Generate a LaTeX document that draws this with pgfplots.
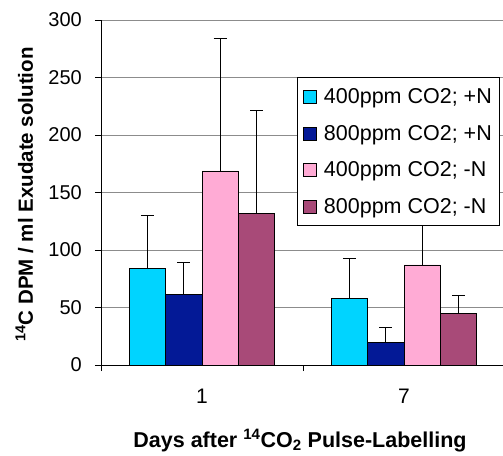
\documentclass[border=0pt]{standalone}
\usepackage{fontspec}
\setmainfont{Liberation Sans}
\usepackage{pgfplots}
\pgfplotsset{compat=1.18}
\definecolor{cA}{RGB}{0,212,255}
\definecolor{cB}{RGB}{3,25,150}
\definecolor{cC}{RGB}{255,171,213}
\definecolor{cD}{RGB}{168,74,120}
\pgfplotsset{
  eb/.style={
    fill=#1, draw=black, line width=0.8pt,
    error bars/.cd, y dir=plus, y explicit,
    error bar style={line width=0.8pt, black},
    error mark options={rotate=90, mark size=6.5pt, line width=0.8pt, black}
  }
}
\begin{document}
\begin{tikzpicture}
\useasboundingbox (0,0) rectangle (503pt,455pt);
\begin{axis}[
  at={(101pt,90pt)}, anchor=south west,
  scale only axis, width=404pt, height=345pt,
  xmin=0.5, xmax=2.5, ymin=0, ymax=300,
  ytick={0,50,...,300},
  xtick={0.5,1.5,2.5}, xticklabels={},
  extra x ticks={1,2}, extra x tick labels={1,7},
  extra x tick style={major tick length=0pt},
  axis lines=left, axis line style={-, black, line width=0.8pt},
  tick align=outside, major tick length=6pt,
  tick style={black, line width=0.8pt},
  ymajorgrids, major grid style={black!45, line width=0.8pt},
  /pgf/number format/assume math mode=true,
  yticklabel style={font=\fontsize{20}{24}\selectfont, anchor=east, inner sep=0pt, xshift=-13pt},
  xticklabel style={font=\fontsize{21}{24}\selectfont, anchor=north, inner sep=0pt, yshift=-24pt},
  xlabel={\textbf{Days after \textsuperscript{14}CO\textsubscript{2} Pulse-Labelling}},
  ylabel={\textbf{\textsuperscript{14}C DPM / ml Exudate solution}},
  xlabel style={font=\fontsize{21.5}{24}\selectfont, at={(axis description cs:0.5,0)}, anchor=base, yshift=-82pt, xshift=-3pt},
  ylabel style={font=\fontsize{20.5}{24}\selectfont, at={([xshift=-68pt,yshift=-2pt]axis description cs:0,0.5)}, anchor=base},
  ybar=0pt, bar width=36.4pt,
  legend style={at={([yshift=-2pt]axis description cs:0.4844,0.8406)}, anchor=north west,
    draw=black, line width=1.2pt, fill=white,
    font=\fontsize{21.5}{24}\selectfont, row sep=16pt, inner xsep=6pt, inner ysep=9pt},
  legend cell align=left,
  legend image code/.code={\draw[#1,/tikz/.cd,draw=black,line width=0.5pt,solid] (0pt,-6.5pt) rectangle (13pt,6.5pt); \path (18pt,0pt);},
]
\addplot[eb=cA] table[x=x, y=y, y error=e] {
x y e
1 84.1 46.3
2 58.2 34.6
};
\addplot[eb=cB] table[x=x, y=y, y error=e] {
x y e
1 61.7 27.6
2 20.0 12.6
};
\addplot[eb=cC] table[x=x, y=y, y error=e] {
x y e
1 168.7 115.4
2 87.0 45.0
};
\addplot[eb=cD] table[x=x, y=y, y error=e] {
x y e
1 131.9 89.8
2 44.8 15.4
};
\legend{400ppm CO2; +N, 800ppm CO2; +N, 400ppm CO2; -N, 800ppm CO2; -N}
\end{axis}
\end{tikzpicture}
\end{document}
